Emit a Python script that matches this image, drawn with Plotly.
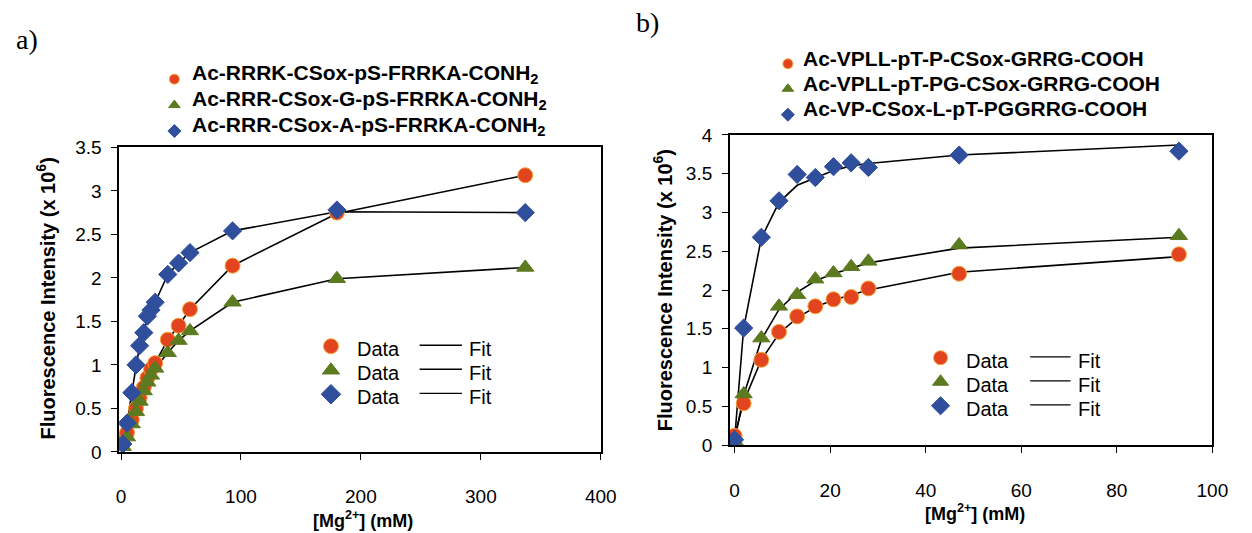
import plotly.graph_objects as go

W, H = 1252, 533

# ---------------- data ----------------
# panel a
a_x = [1.5, 5, 9, 12.5, 15.5, 19, 22, 25, 28.5, 39, 48, 57.5, 93, 180, 337]
a_red = [0.15, 0.22, 0.37, 0.50, 0.62, 0.74, 0.85, 0.95, 1.02, 1.29, 1.45, 1.64, 2.14, 2.75, 3.18]
a_green = [0.06, 0.17, 0.32, 0.46, 0.58, 0.70, 0.80, 0.88, 0.96, 1.14, 1.28, 1.39, 1.72, 1.99, 2.12]
a_blue = [0.09, 0.33, 0.68, 1.00, 1.22, 1.37, 1.56, 1.63, 1.72, 2.04, 2.17, 2.29, 2.54, 2.78, 2.75]
a_red_fit = [0.15, 0.22, 0.37, 0.50, 0.62, 0.74, 0.85, 0.95, 1.02, 1.29, 1.45, 1.64, 2.14, 2.74, 3.18]
a_green_fit = [0.06, 0.17, 0.32, 0.46, 0.58, 0.70, 0.80, 0.88, 0.96, 1.14, 1.28, 1.39, 1.72, 1.99, 2.12]
a_blue_fit = [0.09, 0.33, 0.68, 1.00, 1.22, 1.37, 1.56, 1.63, 1.72, 2.04, 2.17, 2.29, 2.54, 2.76, 2.75]
a_names = ["Ac-RRRK-CSox-pS-FRRKA-CONH<sub>2</sub>",
           "Ac-RRR-CSox-G-pS-FRRKA-CONH<sub>2</sub>",
           "Ac-RRR-CSox-A-pS-FRRKA-CONH<sub>2</sub>"]
a_xticks = [0, 100, 200, 300, 400]
a_yticks = [0, 0.5, 1, 1.5, 2, 2.5, 3, 3.5]

# panel b
b_x = [0, 1.9, 5.6, 9.3, 13.1, 16.9, 20.7, 24.4, 28, 47, 93]
b_red = [0.12, 0.54, 1.10, 1.46, 1.66, 1.79, 1.88, 1.91, 2.02, 2.21, 2.46]
b_green = [0.05, 0.66, 1.38, 1.79, 1.94, 2.14, 2.22, 2.30, 2.37, 2.58, 2.70]
b_blue = [0.07, 1.51, 2.68, 3.15, 3.49, 3.45, 3.59, 3.64, 3.58, 3.74, 3.79]
b_red_fit = [0.12, 0.56, 1.10, 1.44, 1.64, 1.78, 1.87, 1.94, 2.00, 2.23, 2.43]
b_green_fit = [0.05, 0.64, 1.36, 1.75, 1.97, 2.12, 2.21, 2.28, 2.35, 2.54, 2.68]
b_blue_fit = [0.07, 1.51, 2.67, 3.13, 3.35, 3.45, 3.54, 3.60, 3.63, 3.74, 3.87]
b_names = ["Ac-VPLL-pT-P-CSox-GRRG-COOH",
           "Ac-VPLL-pT-PG-CSox-GRRG-COOH",
           "Ac-VP-CSox-L-pT-PGGRRG-COOH"]
b_xticks = [0, 20, 40, 60, 80, 100]
b_yticks = [0, 0.5, 1, 1.5, 2, 2.5, 3, 3.5, 4]

# ---------------- styles ----------------
RED, GREEN, BLUE = "#E2441F", "#5C7A1F", "#2F4E9B"
symbols = ["circle", "triangle-up", "diamond"]
colors = [RED, GREEN, BLUE]
edges = ["#F3A63A", GREEN, BLUE]
sizes = [15, 15, 14]
FONT = "Liberation Sans, Arial, sans-serif"

def px(x):
    return x / W

def py(y):
    return 1 - y / H

fig = go.Figure()

# panel a traces
for ys in [a_red_fit, a_green_fit, a_blue_fit]:
    fig.add_trace(go.Scatter(x=a_x, y=ys, mode="lines", line=dict(color="black", width=1.6),
                             xaxis="x", yaxis="y", showlegend=False, hoverinfo="skip"))
for ys, s, c, e, sz in zip([a_red, a_green, a_blue], symbols, colors, edges, sizes):
    fig.add_trace(go.Scatter(x=a_x, y=ys, mode="markers",
                             marker=dict(symbol=s, color=c, size=sz, line=dict(color=e, width=1)),
                             xaxis="x", yaxis="y", showlegend=False))

# panel b traces
for ys in [b_red_fit, b_green_fit, b_blue_fit]:
    fig.add_trace(go.Scatter(x=b_x, y=ys, mode="lines", line=dict(color="black", width=1.6),
                             xaxis="x2", yaxis="y2", showlegend=False, hoverinfo="skip"))
for ys, s, c, e, sz in zip([b_red, b_green, b_blue], symbols, colors, edges, sizes):
    fig.add_trace(go.Scatter(x=b_x, y=ys, mode="markers",
                             marker=dict(symbol=s, color=c, size=sz, line=dict(color=e, width=1)),
                             xaxis="x2", yaxis="y2", showlegend=False))

# ---------------- legend glyphs (full-page helper axis in pixel units) ----------------
def legend_markers(xpix, ypix_list, size):
    for yp, s, c, e in zip(ypix_list, symbols, colors, edges):
        fig.add_trace(go.Scatter(x=[xpix], y=[yp], mode="markers",
                                 marker=dict(symbol=s, color=c, size=size, line=dict(color=e, width=1)),
                                 xaxis="x3", yaxis="y3", showlegend=False, hoverinfo="skip",
                                 cliponaxis=False))

a_top_rows = [72, 99, 126]
b_top_rows = [56, 82, 109]
a_in_rows = [350, 375, 400]
b_in_rows = [362, 387, 412]
legend_markers(174, a_top_rows, 10)
legend_markers(797, b_top_rows, 10)
legend_markers(333, a_in_rows, 15)
legend_markers(952, b_in_rows, 14)

annotations = []
shapes = []

def text(x, y, t, size, anchor="left", bold=False, family=FONT, angle=0):
    annotations.append(dict(x=px(x), y=py(y), xref="paper", yref="paper", text=(f"<b>{t}</b>" if bold else t),
                            showarrow=False, xanchor=anchor, yanchor="middle", textangle=angle,
                            font=dict(family=family, size=size, color="black")))

for r, n in zip(a_top_rows, a_names):
    text(190, r - 5, n, 21, bold=True)
for r, n in zip(b_top_rows, b_names):
    text(810, r - 6, n, 21, bold=True)

for rows, xd, x0, x1, xf in [(a_in_rows, 357, 423, 466, 471), (b_in_rows, 976, 1043, 1084, 1090)]:
    for r in rows:
        text(xd, r + 3, "Data", 20)
        text(xf, r + 3, "Fit", 20)
        shapes.append(dict(type="line", xref="paper", yref="paper", x0=px(x0), x1=px(x1),
                           y0=py(r - 1), y1=py(r - 1), line=dict(color="black", width=1.3)))

# panel labels and axis titles
text(11, 31, "a)", 28, family="Liberation Serif, Times New Roman, serif")
text(641, 13, "b)", 28, family="Liberation Serif, Times New Roman, serif")
text(366, 530, "[Mg<sup>2+</sup>] (mM)", 18, anchor="center", bold=True)
text(987, 523, "[Mg<sup>2+</sup>] (mM)", 18, anchor="center", bold=True)
text(43, 300, "Fluorescence Intensity (x 10<sup>6</sup>)", 20, anchor="center", bold=True, angle=-90)
text(670, 292, "Fluorescence Intensity (x 10<sup>6</sup>)", 20, anchor="center", bold=True, angle=-90)

axis_common = dict(showgrid=False, zeroline=False, showline=True, linecolor="black", linewidth=1.5,
                   mirror=True, ticks="outside", ticklen=6, tickwidth=1.3, tickcolor="black",
                   tickfont=dict(family=FONT, size=19, color="black"))

fig.update_layout(
    width=W, height=H, margin=dict(l=0, r=0, t=0, b=0),
    paper_bgcolor="white", plot_bgcolor="rgba(0,0,0,0)", showlegend=False,
    xaxis=dict(domain=[px(118), px(607)], range=[-1.5, 400], tickvals=a_xticks,
               anchor="y", ticklabelstandoff=21, **axis_common),
    yaxis=dict(domain=[py(460), py(143)], range=[0, 3.5], tickvals=a_yticks,
               anchor="x", ticklabelstandoff=6, **axis_common),
    xaxis2=dict(domain=[px(738), px(1228)], range=[-1, 100], tickvals=b_xticks,
                anchor="y2", ticklabelstandoff=21, **axis_common),
    yaxis2=dict(domain=[py(453), py(130)], range=[0, 4], tickvals=b_yticks,
                anchor="x2", ticklabelstandoff=6, **axis_common),
    xaxis3=dict(domain=[0, 1], range=[0, W], visible=False, anchor="y3", fixedrange=True),
    yaxis3=dict(domain=[0, 1], range=[H, 0], visible=False, anchor="x3", fixedrange=True),
    annotations=annotations, shapes=shapes,
)

fig.write_html("out.html")
